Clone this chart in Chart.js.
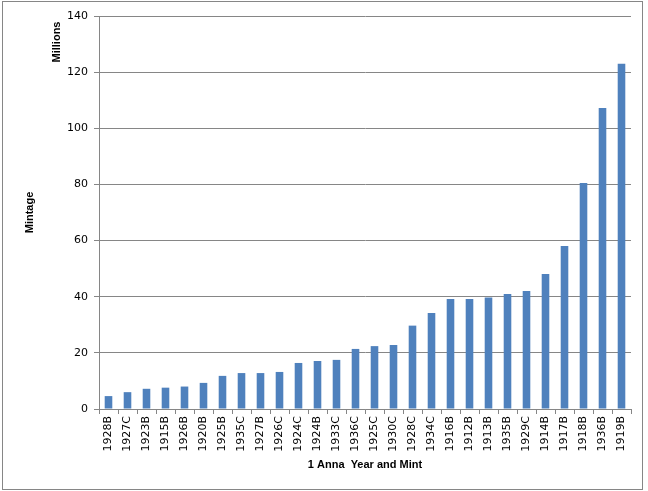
<!DOCTYPE html>
<html>
<head>
<meta charset="utf-8">
<script src="https://cdn.jsdelivr.net/npm/chart.js@4.4.0/dist/chart.umd.min.js"></script>
<style>
  html, body { margin: 0; padding: 0; background: #ffffff; }
  #wrap { position: absolute; left: 0; top: 0; width: 648px; height: 491px; }
</style>
</head>
<body>
<div id="wrap"><canvas id="c" width="648" height="491"></canvas></div>
<script>
const categories = ["1928B","1927C","1923B","1915B","1926B","1920B","1925B","1935C","1927B","1926C","1924C","1924B","1933C","1936C","1925C","1930C","1928C","1934C","1916B","1912B","1913B","1935B","1929C","1914B","1917B","1918B","1936B","1919B"];
const mintage = [4.6, 6.0, 7.2, 7.6, 8.0, 9.3, 11.8, 12.8, 12.8, 13.2, 16.4, 17.1, 17.5, 21.4, 22.4, 22.8, 29.7, 34.2, 39.2, 39.2, 39.7, 41.0, 42.0, 48.1, 58.1, 80.5, 107.2, 123.0];
const yTicks = [0, 20, 40, 60, 80, 100, 120, 140];
const xTitle = "1 Anna  Year and Mint";
const yTitle = "Mintage";
const unitLabel = "Millions";

const gridColor = "#868686";
const tickFont = { family: "DejaVu Sans", size: 11 };
const titleFont = { family: "Liberation Sans", size: 11, weight: "bold" };

const extras = {
  id: "extras",
  beforeDraw(chart) {
    const ctx = chart.ctx;
    ctx.save();
    ctx.fillStyle = "#ffffff";
    ctx.fillRect(0, 0, chart.width, chart.height);
    ctx.restore();
  },
  afterDraw(chart) {
    const ctx = chart.ctx;
    const a = chart.chartArea;
    ctx.save();
    ctx.strokeStyle = gridColor;
    ctx.lineWidth = 1;
    ctx.strokeRect(2.5, 1.5, 640, 488);
    ctx.fillStyle = "#000000";
    ctx.font = "bold 11px 'Liberation Sans'";
    ctx.translate(a.left - 42, a.top + 26);
    ctx.rotate(-Math.PI / 2);
    ctx.textAlign = "center";
    ctx.textBaseline = "middle";
    ctx.fillText(unitLabel, 0, 0);
    ctx.restore();
  }
};

new Chart(document.getElementById("c"), {
  type: "bar",
  data: {
    labels: categories,
    datasets: [{
      data: mintage,
      backgroundColor: "#4F81BD",
      borderWidth: 0,
      barPercentage: 0.4,
      categoryPercentage: 1.0
    }]
  },
  options: {
    responsive: false,
    animation: false,
    devicePixelRatio: 1,
    layout: { padding: { left: 0, right: 17, top: 16, bottom: 0 } },
    plugins: { legend: { display: false }, tooltip: { enabled: false } },
    scales: {
      x: {
        grid: { display: true, drawOnChartArea: false, drawTicks: true, tickLength: 5, color: gridColor, offset: true },
        border: { display: true, color: gridColor },
        ticks: { color: "#000000", font: tickFont, minRotation: 90, maxRotation: 90, autoSkip: false, padding: 2 },
        title: { display: true, text: xTitle, color: "#000000", font: titleFont, padding: { top: 0, bottom: 19 } },
        afterFit(scale) { scale.height = 82; }
      },
      y: {
        min: 0, max: 140,
        afterBuildTicks(scale) { scale.ticks = yTicks.map(v => ({ value: v })); },
        grid: { display: true, drawTicks: true, tickLength: 5, color: gridColor },
        border: { display: true, color: gridColor },
        ticks: { color: "#000000", font: tickFont, padding: 6 },
        title: { display: true, text: yTitle, color: "#000000", font: titleFont, padding: { top: 23, bottom: 0 } },
        afterFit(scale) { scale.width = 99; }
      }
    }
  },
  plugins: [extras]
});
</script>
</body>
</html>
